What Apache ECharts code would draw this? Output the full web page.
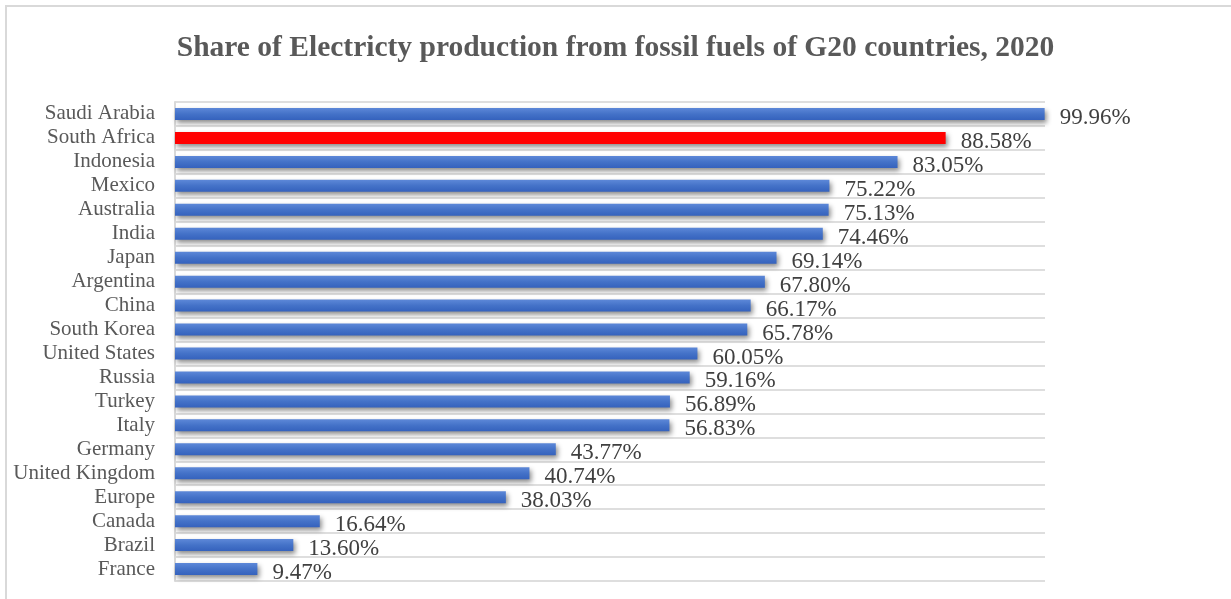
<!DOCTYPE html>
<html>
<head>
<meta charset="utf-8">
<script src="https://cdn.jsdelivr.net/npm/echarts@6/dist/echarts.min.js"></script>
<style>
html,body{margin:0;padding:0;background:#fff;}
#chart{width:1231px;height:599px;}
</style>
</head>
<body>
<div id="chart"></div>
<script>
const titleText = 'Share of Electricty production from fossil fuels of G20 countries, 2020';
const countries = ['Saudi Arabia','South Africa','Indonesia','Mexico','Australia','India','Japan','Argentina','China','South Korea','United States','Russia','Turkey','Italy','Germany','United Kingdom','Europe','Canada','Brazil','France'];
const shares = [99.96,88.58,83.05,75.22,75.13,74.46,69.14,67.80,66.17,65.78,60.05,59.16,56.89,56.83,43.77,40.74,38.03,16.64,13.60,9.47];
const highlight = 'South Africa';

const blueGrad = new echarts.graphic.LinearGradient(0,0,0,1,[
  {offset:0,color:'#5d88d8'},{offset:0.5,color:'#4472c8'},{offset:1,color:'#3562bd'}
]);
const chart = echarts.init(document.getElementById('chart'), null, {renderer:'canvas'});
chart.setOption({
  animation:false,
  backgroundColor:'#ffffff',
  graphic:[{type:'rect',silent:true,shape:{x:6,y:6,width:1400,height:800},style:{fill:'none',stroke:'#d9d9d9',lineWidth:2}}],
  title:{text:titleText,left:'center',top:28,textStyle:{fontFamily:'Liberation Serif',fontWeight:'bold',fontSize:29.5,color:'#595959'}},
  grid:{left:175,right:186,top:102,bottom:18,containLabel:false},
  xAxis:{type:'value',min:0,max:100,show:false,splitLine:{show:false}},
  yAxis:{type:'category',data:countries,inverse:true,
    axisLine:{show:true,lineStyle:{color:'#d9d9d9',width:2}},
    axisTick:{show:false,interval:0},
    splitLine:{show:true,interval:0,lineStyle:{color:'#dedede',width:2}},
    axisLabel:{interval:0,margin:20,padding:[4,0,0,0],fontFamily:'Liberation Serif',fontSize:21,color:'#595959'}
  },
  series:[{type:'bar',barWidth:12,
    data:shares.map((v,i)=>({value:v,itemStyle:{color:countries[i]===highlight?'#ff0000':blueGrad}})),
    itemStyle:{shadowColor:'rgba(0,0,0,0.45)',shadowBlur:5,shadowOffsetX:2,shadowOffsetY:3},
    label:{show:true,position:'right',distance:15,offset:[0,4],formatter:p=>p.value.toFixed(2)+'%',
      fontFamily:'Liberation Serif',fontSize:23,color:'#404040'}
  }]
});
</script>
</body>
</html>
